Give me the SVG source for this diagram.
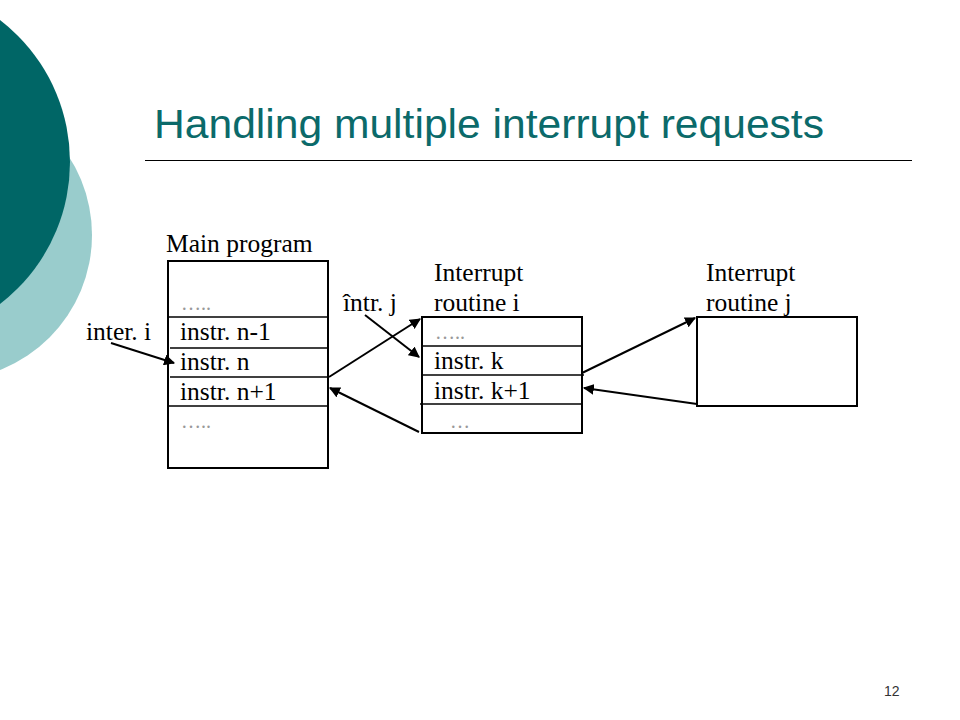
<svg xmlns="http://www.w3.org/2000/svg" width="960" height="720" viewBox="0 0 960 720">
<style>
.t{font-family:"Liberation Serif","Times New Roman",serif;font-size:25.5px;fill:#000}
.d{font-family:"Liberation Serif","Times New Roman",serif;font-size:20px;fill:#999}
.box{fill:#fff;stroke:#000;stroke-width:2}
.div{stroke:#000;stroke-width:1.5}
.arr{stroke:#000;stroke-width:2;fill:none;marker-end:url(#ah)}
</style>
<defs>
<marker id="ah" viewBox="0 0 10 10" refX="9" refY="5" markerWidth="5.5" markerHeight="5.5" orient="auto" markerUnits="strokeWidth">
<path d="M0,0 L10,5 L0,10 z" fill="#000"/>
</marker>
</defs>
<rect width="960" height="720" fill="#fff"/>
<g id="decor">
<circle cx="-53" cy="235" r="145" fill="#99CCCC"/>
<circle cx="-109" cy="162" r="179" fill="#006666"/>
</g>
<g id="title">
<text x="154" y="138" font-family="'Liberation Sans',Arial,sans-serif" font-size="41" fill="#0B6A6A" textLength="670" lengthAdjust="spacingAndGlyphs">Handling multiple interrupt requests</text>
<line x1="145" y1="160.5" x2="912" y2="160.5" stroke="#000" stroke-width="1"/>
</g>
<g id="main-program">
<text class="t" x="166" y="252">Main program</text>
<rect class="box" x="168" y="261" width="160" height="207"/>
<line class="div" x1="168" y1="317" x2="328" y2="317"/>
<line class="div" x1="170" y1="348" x2="328" y2="348"/>
<line class="div" x1="170" y1="377" x2="328" y2="377"/>
<line class="div" x1="168" y1="406" x2="328" y2="406"/>
<text class="d" x="181" y="310">…..</text>
<text class="t" x="180" y="340">instr. n-1</text>
<text class="t" x="180" y="370">instr. n</text>
<text class="t" x="180" y="400">instr. n+1</text>
<text class="d" x="181" y="428">…..</text>
</g>
<g id="routine-i">
<text class="t" x="434" y="281">Interrupt</text>
<text class="t" x="434" y="311">routine i</text>
<rect class="box" x="422" y="317" width="160" height="116"/>
<line class="div" x1="422" y1="346" x2="582" y2="346"/>
<line class="div" x1="422" y1="375" x2="584" y2="375"/>
<line class="div" x1="420" y1="404" x2="582" y2="404"/>
<text class="d" x="435" y="339">…..</text>
<text class="t" x="434" y="369">instr. k</text>
<text class="t" x="434" y="399">instr. k+1</text>
<text class="d" x="450" y="428">…</text>
</g>
<g id="routine-j">
<text class="t" x="706" y="281">Interrupt</text>
<text class="t" x="706" y="311">routine j</text>
<rect class="box" x="697" y="317" width="160" height="89"/>
</g>
<g id="labels">
<text class="t" x="86" y="340">inter. i</text>
<text class="t" x="343" y="311">într. j</text>
</g>
<g id="connectors">
<line class="arr" x1="111" y1="343" x2="174" y2="363"/>
<line class="arr" x1="329" y1="377" x2="420" y2="319"/>
<line class="arr" x1="365" y1="315" x2="419" y2="357"/>
<line class="arr" x1="419" y1="432" x2="330" y2="388"/>
<line class="arr" x1="582" y1="373" x2="695" y2="318"/>
<line class="arr" x1="697" y1="404" x2="584" y2="388"/>
</g>
<text x="884" y="696" font-family="'Liberation Sans',Arial,sans-serif" font-size="14" fill="#333">12</text>
</svg>
